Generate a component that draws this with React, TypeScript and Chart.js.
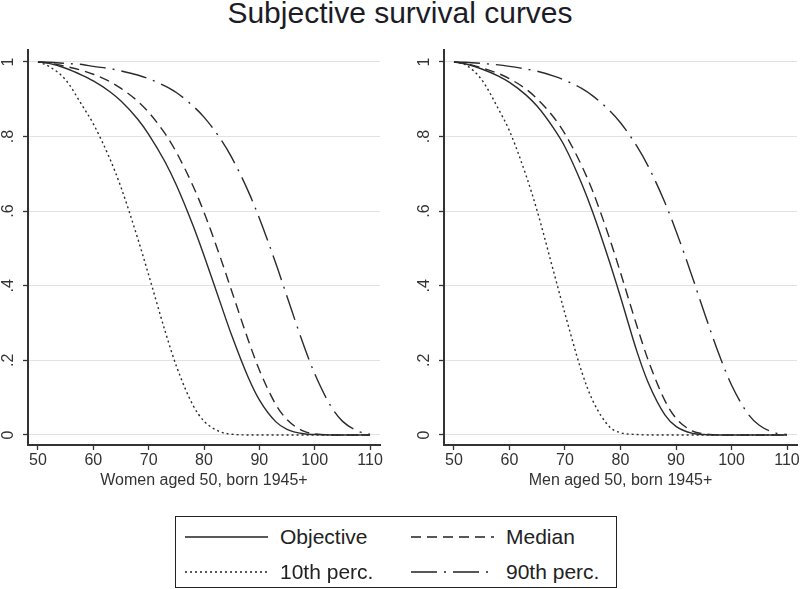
import React, { useEffect, useRef } from "react";
import { Chart, registerables } from "chart.js";

Chart.register(...registerables);

const FONT = "'Liberation Sans', Arial, Helvetica, sans-serif";

// Ages (x values)
const ages = [50, 52, 55, 58, 60, 63, 65, 68, 70, 73, 75, 78, 80, 83, 85, 88, 90, 93, 95, 98, 100, 103, 105, 108, 110];

// Women aged 50, born 1945+
const womenObjective = [1, 0.996, 0.983, 0.964, 0.949, 0.92, 0.895, 0.847, 0.806, 0.731, 0.67, 0.562, 0.481, 0.352, 0.267, 0.154, 0.094, 0.035, 0.015, 0.003, 0.001, 0, 0, 0, 0];
const womenMedian = [1, 0.997, 0.988, 0.977, 0.967, 0.947, 0.929, 0.895, 0.865, 0.807, 0.758, 0.668, 0.597, 0.474, 0.386, 0.254, 0.174, 0.081, 0.041, 0.01, 0.003, 0, 0, 0, 0];
const women10th = [1, 0.988, 0.952, 0.883, 0.834, 0.74, 0.664, 0.528, 0.429, 0.277, 0.185, 0.08, 0.037, 0.008, 0.002, 0, 0, 0, 0, 0, 0, 0, 0, 0, 0];
const women90th = [1, 0.999, 0.996, 0.993, 0.988, 0.982, 0.976, 0.965, 0.955, 0.935, 0.918, 0.882, 0.852, 0.793, 0.744, 0.653, 0.581, 0.459, 0.371, 0.241, 0.164, 0.075, 0.037, 0.009, 0.002];

// Men aged 50, born 1945+
const menObjective = [1, 0.995, 0.981, 0.962, 0.945, 0.911, 0.881, 0.821, 0.772, 0.674, 0.597, 0.465, 0.37, 0.222, 0.14, 0.054, 0.023, 0.004, 0.001, 0, 0, 0, 0, 0, 0];
const menMedian = [1, 0.996, 0.984, 0.969, 0.955, 0.927, 0.901, 0.851, 0.807, 0.722, 0.653, 0.528, 0.435, 0.29, 0.2, 0.092, 0.045, 0.01, 0.003, 0, 0, 0, 0, 0, 0];
const men10th = [1, 0.993, 0.952, 0.874, 0.815, 0.695, 0.6, 0.435, 0.325, 0.17, 0.092, 0.022, 0.006, 0.001, 0, 0, 0, 0, 0, 0, 0, 0, 0, 0, 0];
const men90th = [1, 0.999, 0.996, 0.992, 0.988, 0.981, 0.975, 0.962, 0.951, 0.929, 0.909, 0.87, 0.837, 0.773, 0.72, 0.623, 0.547, 0.421, 0.332, 0.206, 0.134, 0.056, 0.026, 0.005, 0.001];

// Ticks
const yTickValues = [0, 0.2, 0.4, 0.6, 0.8, 1];
const yTickLabels = ["0", ".2", ".4", ".6", ".8", "1"];
const xTickValues = [50, 60, 70, 80, 90, 100, 110];
const xTickLabels = ["50", "60", "70", "80", "90", "100", "110"];

const seriesNames = ["Objective", "Median", "10th perc.", "90th perc."];
const dashes: number[][] = [[], [10, 6], [2, 3], [26, 7, 2, 7]];

const LINE = "#2b2b2b";
const AXIS = "#333333";

function toPts(arr: number[]) {
  return ages.map((a, i) => ({ x: a, y: arr[i] }));
}

function makeChart(
  canvas: HTMLCanvasElement,
  series: number[][],
  xTitle: string,
  yWidth: number,
  padRight: number
) {
  return new Chart(canvas, {
    type: "line",
    data: {
      datasets: series.map((s, i) => ({
        label: seriesNames[i],
        data: toPts(s),
        borderColor: LINE,
        borderWidth: 1.4,
        borderDash: dashes[i],
        pointRadius: 0,
        fill: false,
        cubicInterpolationMode: "monotone" as const,
      })),
    },
    options: {
      animation: false,
      responsive: false,
      maintainAspectRatio: false,
      devicePixelRatio: 1,
      layout: { padding: { top: 10, right: padRight, left: 0, bottom: 0 } },
      plugins: {
        legend: { display: false },
        title: { display: false },
        tooltip: { enabled: false },
      },
      scales: {
        x: {
          type: "linear",
          min: 48.2,
          max: 111.8,
          afterBuildTicks: (scale: any) => {
            scale.ticks = xTickValues.map((v) => ({ value: v }));
          },
          afterFit: (scale: any) => {
            scale.height = 55;
            scale.paddingLeft = 0;
            scale.paddingRight = 0;
          },
          ticks: {
            callback: (v: any) => xTickLabels[xTickValues.indexOf(Number(v))],
            font: { family: FONT, size: 16 },
            color: AXIS,
            padding: 1,
            maxRotation: 0,
            minRotation: 0,
          },
          grid: {
            display: true,
            drawOnChartArea: false,
            drawTicks: true,
            tickLength: 5,
            tickColor: AXIS,
            tickWidth: 1.3,
          },
          border: { display: true, color: AXIS, width: 2 },
          title: {
            display: true,
            text: xTitle,
            font: { family: FONT, size: 16 },
            color: AXIS,
            padding: { top: 2, bottom: 10 },
          },
        },
        y: {
          type: "linear",
          min: -0.027,
          max: 1.032,
          afterBuildTicks: (scale: any) => {
            scale.ticks = yTickValues.map((v) => ({ value: v }));
          },
          afterFit: (scale: any) => {
            scale.width = yWidth;
            scale.paddingTop = 0;
            scale.paddingBottom = 0;
          },
          ticks: {
            callback: (v: any) => yTickLabels[yTickValues.indexOf(Number(v))],
            font: { family: FONT, size: 16 },
            color: AXIS,
            padding: 8,
            minRotation: 90,
            maxRotation: 90,
            crossAlign: "center",
          },
          grid: {
            display: true,
            drawOnChartArea: true,
            color: "#e2e2e2",
            lineWidth: 1,
            drawTicks: true,
            tickLength: 5,
            tickColor: AXIS,
            tickWidth: 1.3,
          },
          border: { display: true, color: AXIS, width: 2 },
        },
      },
    },
  } as any);
}

function Panel(props: {
  left: number;
  series: number[][];
  xTitle: string;
  yWidth: number;
  padRight: number;
}) {
  const ref = useRef<HTMLCanvasElement | null>(null);
  useEffect(() => {
    if (!ref.current) return;
    const chart = makeChart(ref.current, props.series, props.xTitle, props.yWidth, props.padRight);
    return () => chart.destroy();
  }, []);
  return (
    <canvas
      ref={ref}
      width={400}
      height={460}
      style={{ position: "absolute", left: props.left, top: 40, width: 400, height: 460 }}
    />
  );
}

function LegendItem(props: { x: number; y: number; idx: number }) {
  const { x, y, idx } = props;
  return (
    <>
      <svg
        style={{ position: "absolute", left: 0, top: 0, overflow: "visible" }}
        width={1}
        height={1}
      >
        <line
          x1={x}
          y1={y}
          x2={x + 83}
          y2={y}
          stroke="#222"
          strokeWidth={1.4}
          strokeDasharray={dashes[idx].length ? dashes[idx].join(" ") : undefined}
        />
      </svg>
      <span
        style={{
          position: "absolute",
          left: x + 95,
          top: y - 12,
          fontFamily: FONT,
          fontSize: 21,
          lineHeight: "24px",
          color: "#222",
          whiteSpace: "nowrap",
        }}
      >
        {seriesNames[idx]}
      </span>
    </>
  );
}

export default function App() {
  return (
    <div
      style={{
        position: "absolute",
        left: 0,
        top: 0,
        width: 800,
        height: 589,
        background: "#ffffff",
        overflow: "hidden",
      }}
    >
      <div
        style={{
          position: "absolute",
          left: 0,
          top: -2,
          width: 800,
          height: 30,
          lineHeight: "30px",
          textAlign: "center",
          fontFamily: FONT,
          fontSize: 30,
          color: "#1c1c26",
        }}
      >
        Subjective survival curves
      </div>
      <Panel
        left={0}
        series={[womenObjective, womenMedian, women10th, women90th]}
        xTitle="Women aged 50, born 1945+"
        yWidth={28}
        padRight={20}
      />
      <Panel
        left={400}
        series={[menObjective, menMedian, men10th, men90th]}
        xTitle="Men aged 50, born 1945+"
        yWidth={44}
        padRight={3}
      />
      <div
        style={{
          position: "absolute",
          left: 175,
          top: 516,
          width: 442,
          height: 72,
          border: "1.5px solid #222",
          boxSizing: "border-box",
        }}
      />
      <LegendItem x={185} y={537} idx={0} />
      <LegendItem x={411} y={537} idx={1} />
      <LegendItem x={185} y={572} idx={2} />
      <LegendItem x={411} y={572} idx={3} />
    </div>
  );
}
